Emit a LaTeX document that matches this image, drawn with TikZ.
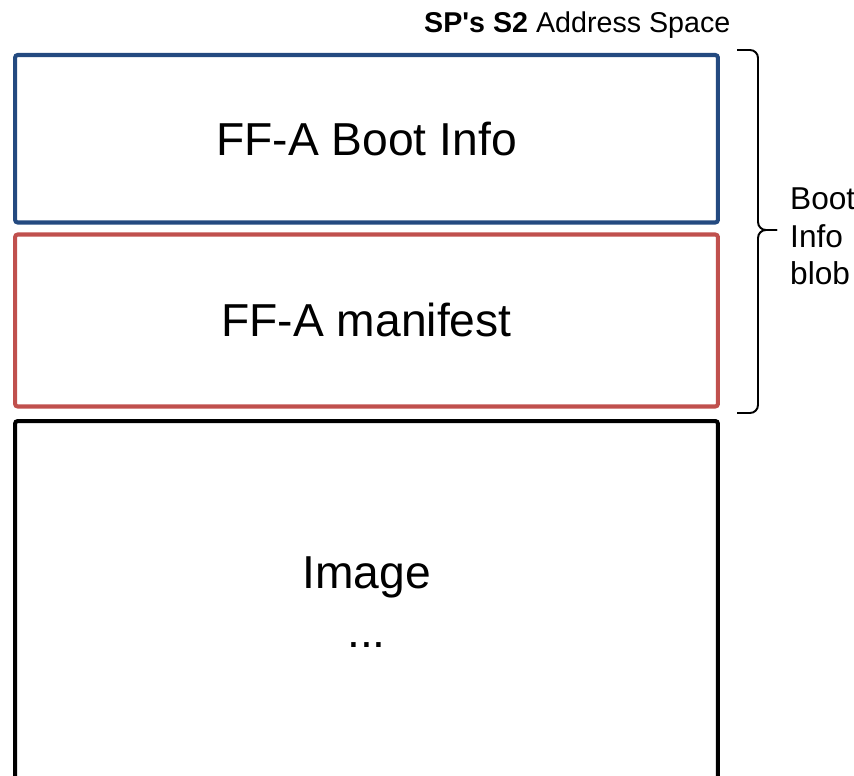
\documentclass[tikz,border=0pt]{standalone}
\usepackage{fontspec}
\setmainfont{Liberation Sans}[Ligatures=TeXOff]

\definecolor{bootblue}{RGB}{36,74,128}
\definecolor{manifestred}{RGB}{192,80,77}

\begin{document}
\begin{tikzpicture}[x=0.02cm,y=-0.02cm,
    region/.style={draw,line width=2.3pt,rounded corners=1.5pt,minimum width=14.06cm,inner sep=0pt},
    bigtext/.style={font=\fontsize{26.3}{30}\selectfont,anchor=base},
    sidetext/.style={font=\fontsize{18}{21.5}\selectfont,align=left,anchor=base west}]
    \useasboundingbox (0,0) rectangle (854,776);
    \clip (0,0) rectangle (854,776);
    \node[region,bootblue,minimum height=3.35cm] (bootinfo) at (366.5,138.75) {};
    \node[region,manifestred,minimum height=3.44cm] (manifest) at (366.5,320.5) {};
    \node[region,black,minimum height=8cm] (image) at (366.5,621) {};
    \node[bigtext] (bootinfolabel) at (366.5,156) {FF-A Boot Info};
    \node[bigtext] (manifestlabel) at (366.5,337) {FF-A manifest};
    \node[bigtext] (imagelabel) at (366.5,588) {Image};
    \node[bigtext] (dots) at (366.5,647) {...};
    \node[font=\fontsize{16.3}{19}\selectfont,anchor=base west] (title) at (418,33) {\textbf{SP's S2} Address Space};
    \coordinate (bracetop) at (737,50);
    \coordinate (bracebot) at (737,413);
    \coordinate (bracetip) at (777,230);
    \draw[line width=1.1pt] (bracetop) -- (750,50) to[out=0,in=90] (758,58) -- (758,222)
        to[out=-90,in=180] (766,230) -- (bracetip);
    \draw[line width=1.1pt] (bracetip) -- (766,230) to[out=180,in=90] (758,238) -- (758,405)
        to[out=-90,in=0] (750,413) -- (bracebot);
    \node[sidetext] (blob) at (784,285) {Boot\\Info\\blob};
\end{tikzpicture}
\end{document}
